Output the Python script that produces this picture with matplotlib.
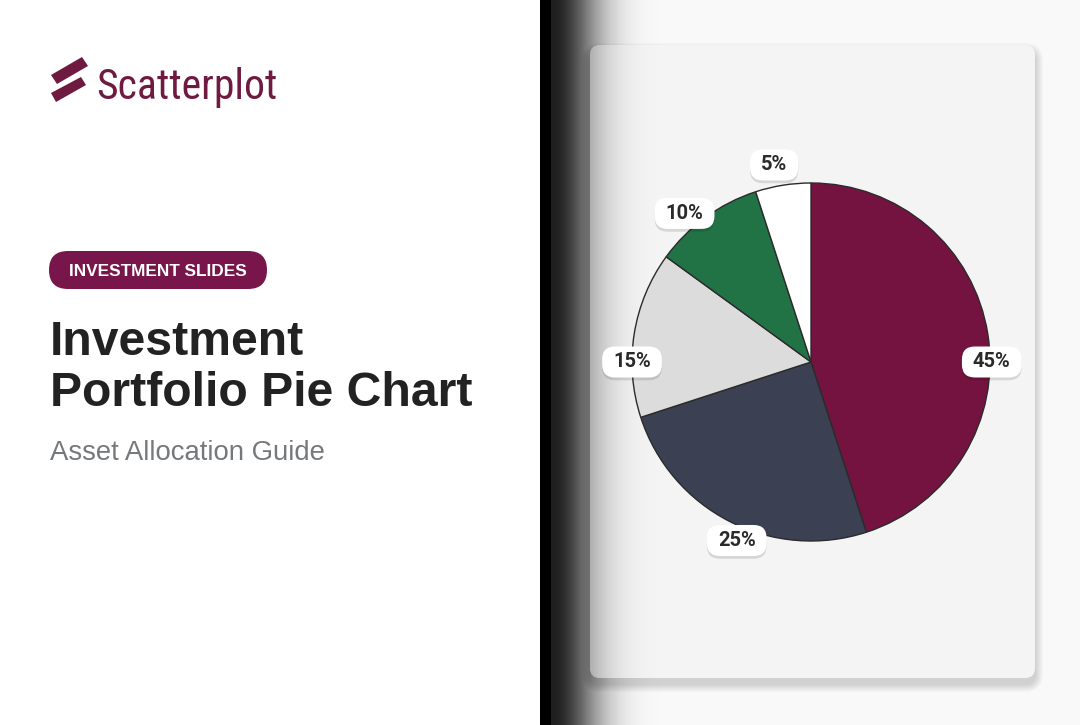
"""Investment portfolio pie chart slide."""
import numpy as np
import matplotlib
matplotlib.use("Agg")
import matplotlib.pyplot as plt
from matplotlib.patches import FancyBboxPatch, Polygon, Rectangle
from matplotlib.transforms import IdentityTransform
import matplotlib.patheffects as pe

# data
shares = [45, 25, 15, 10, 5]
pct_labels = ["45%", "25%", "15%", "10%", "5%"]
colors = ["#74133f", "#3b4152", "#dcdcdc", "#217346", "#ffffff"]
# label nudges (deg offset from wedge middle, radius in pie units)
label_shift = [-9, 4.4, 9, 4.4, 1.6]
label_rad = [1.01, 1.08, 1.0, 1.09, 1.12]

MAROON = "#6f1a40"
W, H = 1080, 725
fig = plt.figure(figsize=(10.8, 7.25), dpi=100)
bg = fig.add_axes([0, 0, 1, 1])
bg.set_xlim(0, W); bg.set_ylim(H, 0); bg.axis("off")

# panels
bg.add_patch(Rectangle((0, 0), 540, H, fc="white", ec="none", zorder=0))
bg.add_patch(Rectangle((540, 0), 540, H, fc="#f9f9f9", ec="none", zorder=0))


def shade(x0, x1, peak, zorder, clip=None):
    x = np.arange(x0, x1)
    img = np.zeros((1, len(x), 4))
    img[0, :, 3] = peak * np.exp(-((x - 551) / 47.0) ** 2)
    im = bg.imshow(img, extent=(x0, x1, H, 0), aspect="auto", zorder=zorder, interpolation="bilinear")
    if clip is not None:
        im.set_clip_path(clip)


shade(551, 700, 0.88, 1)

# card + soft shadow
for k in range(8):
    g = 2 + k * 2
    bg.add_patch(FancyBboxPatch((590 - g / 2, 45 + 6 - g / 2), 445 + g, 633 + g,
                                boxstyle=f"round,pad=0,rounding_size={10 + g / 2}",
                                fc="k", ec="none", alpha=0.018, zorder=1.5))
card = FancyBboxPatch((590, 45), 445, 633, boxstyle="round,pad=0,rounding_size=10",
                      fc="#f4f4f4", ec="none", zorder=2)
bg.add_patch(card)
shade(590, 700, 0.88 * 0.64, 3, clip=card)
bg.add_patch(Rectangle((540, 0), 11, H, fc="black", ec="none", zorder=3))
bg.set_xlim(0, W); bg.set_ylim(H, 0)

# logo
bg.add_patch(Polygon([(51, 75), (82, 57), (88, 66), (57, 84)], closed=True, fc=MAROON, ec="none", zorder=4))
bg.add_patch(Polygon([(51, 93), (81, 77), (86, 85), (56, 102)], closed=True, fc=MAROON, ec="none", zorder=4))
bg.text(96, 99, "Scatterplot", fontsize=30, color=MAROON, va="baseline",
        family=["Roboto Condensed", "Liberation Sans Narrow", "Roboto"], zorder=4)

# pill
bg.add_patch(FancyBboxPatch((49, 251), 218, 38, boxstyle="round,pad=0,rounding_size=19",
                            fc="#78154a", ec="none", zorder=4))
bg.text(158, 271, "INVESTMENT SLIDES", fontsize=12.4, color="white", weight="bold",
        ha="center", va="center", family="Liberation Sans", zorder=5)

# headings
bg.text(50, 355, "Investment", fontsize=34.7, weight="bold", color="#222222",
        va="baseline", family="Liberation Sans", zorder=4)
bg.text(50, 406, "Portfolio Pie Chart", fontsize=34.7, weight="bold", color="#222222",
        va="baseline", family="Liberation Sans", zorder=4)
bg.text(50, 460, "Asset Allocation Guide", fontsize=19.8, color="#76797c",
        va="baseline", family="Liberation Sans", zorder=4)

# pie
R, CX, CY, half = 179, 811, 362, 215
pax = fig.add_axes([(CX - half) / W, (H - CY - half) / H, 2 * half / W, 2 * half / H])
pax.axis("off")
wedges, _ = pax.pie(shares, colors=colors, startangle=90, counterclock=False,
                    wedgeprops=dict(edgecolor="#2b2b2b", linewidth=1.0))
pax.set_xlim(-half / R, half / R); pax.set_ylim(-half / R, half / R)

texts = []
for w, lab, dth, r in zip(wedges, pct_labels, label_shift, label_rad):
    th = np.deg2rad((w.theta1 + w.theta2) / 2 + dth)
    texts.append(pax.text(r * np.cos(th), r * np.sin(th), lab, fontsize=14.5, weight="bold",
                          color="#2a2a2a", ha="center", va="center", family="Roboto", zorder=6))

# pill boxes behind the labels, sized from the rendered text
fig.canvas.draw()
rend = fig.canvas.get_renderer()
for t in texts:
    ext = t.get_window_extent(rend)
    cx, cy = (ext.x0 + ext.x1) / 2, (ext.y0 + ext.y1) / 2
    bw, bh = ext.width + 22, 31
    box = FancyBboxPatch((cx - bw / 2, cy - bh / 2), bw, bh,
                         boxstyle="round,pad=0,rounding_size=13", fc="white", ec="none",
                         transform=IdentityTransform(), zorder=5, clip_on=False)
    box.set_path_effects([pe.withSimplePatchShadow(offset=(0, -2), shadow_rgbFace="k", alpha=0.12)])
    pax.add_patch(box)

fig.savefig("out.png", dpi=100)
